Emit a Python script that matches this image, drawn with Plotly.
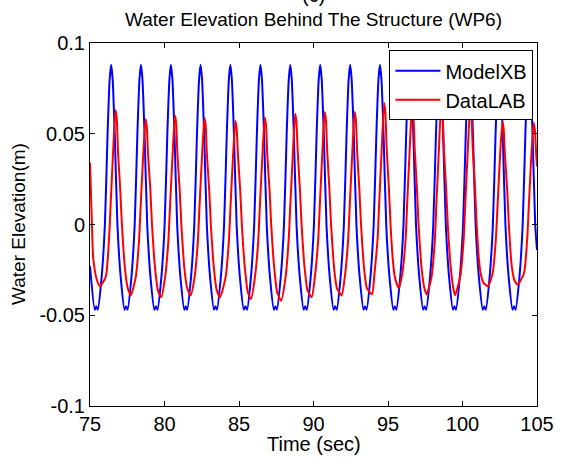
import plotly.graph_objects as go

# ModelXB (blue) samples
model_t = [75.00, 75.32, 75.42,
    75.52, 75.77, 76.00, 76.18, 76.32, 76.42, 76.52, 76.66, 76.84, 77.07, 77.32, 77.42,
    77.52, 77.77, 78.00, 78.18, 78.32, 78.42, 78.52, 78.66, 78.84, 79.07, 79.32, 79.42,
    79.53, 79.78, 80.01, 80.19, 80.33, 80.43, 80.53, 80.67, 80.85, 81.08, 81.33, 81.43,
    81.52, 81.77, 82.00, 82.18, 82.32, 82.42, 82.52, 82.66, 82.84, 83.07, 83.32, 83.42,
    83.52, 83.77, 84.00, 84.18, 84.32, 84.42, 84.52, 84.66, 84.84, 85.07, 85.32, 85.42,
    85.54, 85.79, 86.02, 86.20, 86.34, 86.44, 86.54, 86.68, 86.86, 87.09, 87.34, 87.44,
    87.54, 87.79, 88.02, 88.20, 88.34, 88.44, 88.54, 88.68, 88.86, 89.09, 89.34, 89.44,
    89.55, 89.80, 90.03, 90.21, 90.35, 90.45, 90.55, 90.69, 90.87, 91.10, 91.35, 91.45,
    91.56, 91.81, 92.04, 92.22, 92.36, 92.46, 92.56, 92.70, 92.88, 93.11, 93.36, 93.46,
    93.56, 93.81, 94.04, 94.22, 94.36, 94.46, 94.56, 94.70, 94.88, 95.11, 95.36, 95.46,
    95.56, 95.81, 96.04, 96.22, 96.36, 96.46, 96.56, 96.70, 96.88, 97.11, 97.36, 97.46,
    97.56, 97.81, 98.04, 98.22, 98.36, 98.46, 98.56, 98.70, 98.88, 99.11, 99.36, 99.46,
    99.56, 99.81, 100.04, 100.22, 100.36, 100.46, 100.56, 100.70, 100.88, 101.11, 101.36, 101.46,
    101.56, 101.81, 102.04, 102.22, 102.36, 102.46, 102.56, 102.70, 102.88, 103.11, 103.36, 103.46,
    103.56, 103.81, 104.04, 104.22, 104.36, 104.46, 104.56, 104.70, 104.88, 105.00]
model_eta = [-0.023, -0.047, -0.045,
    -0.047, -0.030, 0.0, 0.05, 0.080, 0.088, 0.080, 0.05, 0.0, -0.030, -0.047, -0.045,
    -0.047, -0.030, 0.0, 0.05, 0.080, 0.088, 0.080, 0.05, 0.0, -0.030, -0.047, -0.045,
    -0.047, -0.030, 0.0, 0.05, 0.080, 0.088, 0.080, 0.05, 0.0, -0.030, -0.047, -0.045,
    -0.047, -0.030, 0.0, 0.05, 0.080, 0.088, 0.080, 0.05, 0.0, -0.030, -0.047, -0.045,
    -0.047, -0.030, 0.0, 0.05, 0.080, 0.088, 0.080, 0.05, 0.0, -0.030, -0.047, -0.045,
    -0.047, -0.030, 0.0, 0.05, 0.080, 0.088, 0.080, 0.05, 0.0, -0.030, -0.047, -0.045,
    -0.047, -0.030, 0.0, 0.05, 0.080, 0.088, 0.080, 0.05, 0.0, -0.030, -0.047, -0.045,
    -0.047, -0.030, 0.0, 0.05, 0.080, 0.088, 0.080, 0.05, 0.0, -0.030, -0.047, -0.045,
    -0.047, -0.030, 0.0, 0.05, 0.080, 0.088, 0.080, 0.05, 0.0, -0.030, -0.047, -0.045,
    -0.047, -0.030, 0.0, 0.05, 0.080, 0.088, 0.080, 0.05, 0.0, -0.030, -0.047, -0.045,
    -0.047, -0.030, 0.0, 0.05, 0.080, 0.088, 0.080, 0.05, 0.0, -0.030, -0.047, -0.045,
    -0.047, -0.030, 0.0, 0.05, 0.080, 0.088, 0.080, 0.05, 0.0, -0.030, -0.047, -0.045,
    -0.047, -0.030, 0.0, 0.05, 0.080, 0.088, 0.080, 0.05, 0.0, -0.030, -0.047, -0.045,
    -0.047, -0.030, 0.0, 0.05, 0.080, 0.088, 0.080, 0.05, 0.0, -0.030, -0.047, -0.045,
    -0.047, -0.030, 0.0, 0.05, 0.080, 0.088, 0.080, 0.05, 0.0, -0.014]

# DataLAB (red) samples
lab_t = [75.00, 75.13, 75.22, 75.48, 75.66,
    76.05, 76.27, 76.38, 76.55, 76.71, 76.79, 76.88, 77.03, 77.14, 77.30, 77.41, 77.53, 77.74,
    78.07, 78.29, 78.40, 78.57, 78.73, 78.81, 78.90, 79.05, 79.16, 79.32, 79.43, 79.55, 79.78,
    80.04, 80.26, 80.37, 80.54, 80.70, 80.78, 80.87, 81.02, 81.13, 81.29, 81.40, 81.52, 81.76,
    82.02, 82.24, 82.35, 82.52, 82.68, 82.76, 82.85, 83.00, 83.11, 83.27, 83.38, 83.50, 83.73,
    84.10, 84.32, 84.43, 84.60, 84.76, 84.84, 84.93, 85.08, 85.19, 85.35, 85.46, 85.58, 85.81,
    86.07, 86.29, 86.40, 86.57, 86.73, 86.81, 86.90, 87.05, 87.16, 87.32, 87.43, 87.55, 87.83,
    88.11, 88.33, 88.44, 88.61, 88.77, 88.85, 88.94, 89.09, 89.20, 89.36, 89.47, 89.59, 89.88,
    90.09, 90.31, 90.42, 90.59, 90.75, 90.83, 90.92, 91.07, 91.18, 91.34, 91.45, 91.57, 91.89,
    92.10, 92.32, 92.43, 92.60, 92.76, 92.84, 92.93, 93.08, 93.19, 93.35, 93.46, 93.58, 93.93,
    94.08, 94.30, 94.41, 94.58, 94.74, 94.82, 94.91, 95.06, 95.17, 95.33, 95.44, 95.56, 95.72,
    95.96, 96.18, 96.29, 96.46, 96.62, 96.70, 96.79, 96.94, 97.05, 97.21, 97.32, 97.44, 97.59,
    97.92, 98.14, 98.25, 98.42, 98.58, 98.66, 98.75, 98.90, 99.01, 99.17, 99.28, 99.38, 99.50,
    99.86, 100.08, 100.19, 100.36, 100.52, 100.60, 100.69, 100.84, 100.95, 101.11, 101.22, 101.40, 101.70,
    102.02, 102.24, 102.35, 102.52, 102.68, 102.76, 102.85, 103.00, 103.11, 103.27, 103.38, 103.50, 103.70,
    104.12, 104.34, 104.45, 104.62, 104.78, 104.86, 104.95, 105.00]
lab_eta = [0.034, 0.0, -0.019, -0.031, -0.034,
    -0.029, -0.009, 0.010, 0.040, 0.063, 0.059, 0.040, 0.019, 0.0, -0.020, -0.029, -0.035, -0.039,
    -0.029, -0.009, 0.010, 0.038, 0.058, 0.054, 0.038, 0.019, 0.0, -0.020, -0.029, -0.036, -0.040,
    -0.029, -0.009, 0.010, 0.038, 0.060, 0.056, 0.038, 0.019, 0.0, -0.020, -0.029, -0.035, -0.039,
    -0.029, -0.009, 0.010, 0.038, 0.0585, 0.055, 0.038, 0.019, 0.0, -0.020, -0.029, -0.036, -0.040,
    -0.029, -0.009, 0.010, 0.038, 0.057, 0.053, 0.038, 0.019, 0.0, -0.020, -0.029, -0.037, -0.041,
    -0.029, -0.009, 0.010, 0.038, 0.059, 0.055, 0.038, 0.019, 0.0, -0.020, -0.029, -0.037, -0.042,
    -0.030, -0.009, 0.010, 0.038, 0.061, 0.057, 0.040, 0.019, 0.0, -0.020, -0.029, -0.036, -0.040,
    -0.029, -0.009, 0.010, 0.039, 0.062, 0.058, 0.040, 0.019, 0.0, -0.020, -0.029, -0.035, -0.039,
    -0.029, -0.009, 0.010, 0.039, 0.062, 0.058, 0.040, 0.019, 0.0, -0.020, -0.029, -0.035, -0.0385,
    -0.028, -0.008, 0.012, 0.042, 0.067, 0.062, 0.042, 0.020, 0.0, -0.020, -0.028, -0.032, -0.035,
    -0.027, -0.008, 0.012, 0.042, 0.066, 0.061, 0.042, 0.020, 0.0, -0.020, -0.029, -0.035, -0.0385,
    -0.029, -0.009, 0.012, 0.042, 0.068, 0.063, 0.042, 0.020, 0.0, -0.020, -0.029, -0.035, -0.039,
    -0.028, -0.008, 0.012, 0.042, 0.066, 0.061, 0.042, 0.020, 0.0, -0.020, -0.027, -0.032, -0.034,
    -0.027, -0.008, 0.010, 0.038, 0.0566, 0.053, 0.038, 0.019, 0.0, -0.020, -0.027, -0.031, -0.033,
    -0.027, -0.008, 0.010, 0.038, 0.056, 0.052, 0.038, 0.032]

x_ticks = [75, 80, 85, 90, 95, 100, 105]
y_ticks = [-0.1, -0.05, 0, 0.05, 0.1]
y_tick_text = ["-0.1", "-0.05", "0", "0.05", "0.1"]

FONT = "Liberation Sans, Arial, sans-serif"

fig = go.Figure()
fig.add_trace(go.Scatter(x=model_t, y=model_eta, name="ModelXB", mode="lines",
                         line=dict(color="#0000FF", width=2, shape="spline", smoothing=0.6)))
fig.add_trace(go.Scatter(x=lab_t, y=lab_eta, name="DataLAB", mode="lines",
                         line=dict(color="#FF0000", width=2, shape="spline", smoothing=0.6)))

axis_common = dict(showgrid=False, zeroline=False, showline=True, linecolor="black", linewidth=1,
                   mirror="allticks", ticks="inside", ticklen=5, tickcolor="black",
                   tickfont=dict(family=FONT, size=20, color="black"))

fig.update_layout(
    width=566, height=459,
    margin=dict(l=90, r=20, t=43, b=53),
    paper_bgcolor="white", plot_bgcolor="white",
    showlegend=True,
    legend=dict(x=0.992, y=0.98, xanchor="right", yanchor="top",
                bgcolor="white", bordercolor="black", borderwidth=1,
                font=dict(family=FONT, size=20, color="black"),
                itemwidth=45, tracegroupgap=0),
    xaxis=dict(range=[75, 105], tickvals=x_ticks, ticktext=[str(v) for v in x_ticks],
               **axis_common),
    yaxis=dict(range=[-0.1, 0.1], tickvals=y_ticks, ticktext=y_tick_text,
               **axis_common),
    annotations=[
        dict(text="(c)", xref="paper", yref="paper", x=0.5, y=1, xanchor="center", yanchor="bottom",
             yshift=35, showarrow=False, font=dict(family=FONT, size=20, color="black")),
        dict(text="Water Elevation Behind The Structure (WP6)", xref="paper", yref="paper",
             x=0.5, y=1, xanchor="center", yanchor="bottom", yshift=11, showarrow=False,
             font=dict(family=FONT, size=19, color="black")),
        dict(text="Water Elevation(m)", xref="paper", yref="paper", x=0, y=0.5,
             xanchor="right", yanchor="middle", xshift=-59, textangle=-90, showarrow=False,
             font=dict(family=FONT, size=19, color="black")),
        dict(text="Time (sec)", xref="paper", yref="paper", x=0.5, y=0,
             xanchor="center", yanchor="top", yshift=-25, showarrow=False,
             font=dict(family=FONT, size=20, color="black")),
    ],
)

fig.write_html("out.html", config={"displayModeBar": False},
               post_script="document.body.style.margin='0';document.body.style.padding='0';")
